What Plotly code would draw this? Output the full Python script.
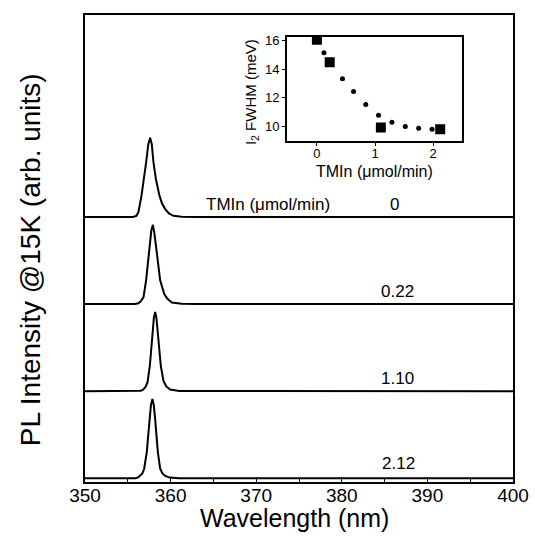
import plotly.graph_objects as go

# ---- main spectra (normalized PL intensity) ----
tmin_labels = ["0", "0.22", "1.10", "2.12"]
offsets = [3, 2, 1, 0]

wl_0 = [350, 355.6, 356.0, 356.24, 356.6, 356.91, 357.14, 357.4, 357.61, 357.8, 358.0, 358.28, 358.7, 359.0, 359.37, 359.8, 360.34, 361.3, 363, 400]
pl_0 = [0, 0, 0.015, 0.06, 0.27, 0.48, 0.69, 0.92, 1.0, 0.92, 0.69, 0.48, 0.27, 0.17, 0.10, 0.045, 0.015, 0.004, 0, 0]

wl_1 = [350, 355.8, 356.24, 356.55, 356.83, 357.14, 357.34, 357.53, 357.75, 357.93, 358.1, 358.31, 358.51, 358.78, 359.25, 359.6, 360.15, 361.3, 363, 400]
pl_1 = [0, 0, 0.01, 0.04, 0.085, 0.30, 0.51, 0.72, 0.93, 1.0, 0.9, 0.72, 0.51, 0.30, 0.13, 0.07, 0.02, 0.004, 0, 0]

wl_2 = [350, 356.2, 356.5, 356.76, 357.05, 357.30, 357.57, 357.73, 357.88, 358.05, 358.2, 358.35, 358.51, 358.66, 358.86, 359.17, 359.5, 359.95, 361, 400]
pl_2 = [0, 0, 0.005, 0.016, 0.05, 0.11, 0.315, 0.52, 0.73, 0.93, 1.0, 0.92, 0.73, 0.52, 0.315, 0.13, 0.06, 0.02, 0.003, 0]

wl_3 = [350, 355.9, 356.2, 356.44, 356.7, 356.91, 357.22, 357.38, 357.53, 357.7, 357.88, 358.04, 358.20, 358.35, 358.51, 358.78, 359.05, 359.37, 359.9, 361, 400]
pl_3 = [0, 0, 0.01, 0.03, 0.06, 0.12, 0.33, 0.535, 0.74, 0.92, 1.0, 0.92, 0.74, 0.535, 0.33, 0.12, 0.06, 0.03, 0.008, 0, 0]

spectra_wl = [wl_0, wl_1, wl_2, wl_3]
spectra_pl = [pl_0, pl_1, pl_2, pl_3]
peak_scale = 0.91

# ---- inset data ----
inset_tmin = [0, 0.22, 1.10, 2.12]
inset_fwhm = [16.07, 14.48, 9.9, 9.78]
fit_tmin = [0.12, 0.44, 0.63, 0.84, 1.06, 1.29, 1.52, 1.75, 1.98]
fit_fwhm = [15.16, 13.32, 12.43, 11.52, 10.76, 10.27, 9.97, 9.85, 9.78]

main_ticks = [350, 360, 370, 380, 390, 400]
inset_xticks = [0, 1, 2]
inset_yticks = [10, 12, 14, 16]

FONT = "Liberation Sans, Arial, sans-serif"

fig = go.Figure()
for wl, pl, off in zip(spectra_wl, spectra_pl, offsets):
    fig.add_trace(go.Scatter(
        x=wl, y=[off + peak_scale * v for v in pl], mode="lines",
        line=dict(color="black", width=2), showlegend=False,
        xaxis="x", yaxis="y"))

fig.add_trace(go.Scatter(
    x=fit_tmin, y=fit_fwhm, mode="markers",
    marker=dict(color="black", size=5, symbol="circle"),
    showlegend=False, xaxis="x2", yaxis="y2"))
fig.add_trace(go.Scatter(
    x=inset_tmin, y=inset_fwhm, mode="markers",
    marker=dict(color="black", size=10, symbol="square"),
    showlegend=False, xaxis="x2", yaxis="y2"))

# labels next to spectra
label_x = [386.1, 386.5, 386.5, 386.6]
label_y = [3.14, 2.15, 1.15, 0.17]
for lab, lx, ly in zip(tmin_labels, label_x, label_y):
    fig.add_annotation(x=lx, y=ly, text=lab,
                       showarrow=False, xref="x", yref="y",
                       font=dict(size=17, color="black", family=FONT))
fig.add_annotation(x=371.4, y=3.14, text="TMIn (\u03bcmol/min)", showarrow=False,
                   xref="x", yref="y", font=dict(size=17, color="black", family=FONT))

# axis titles as annotations (paper coords)
fig.add_annotation(x=0.489, y=-0.077, xref="paper", yref="paper", text="Wavelength (nm)",
                   showarrow=False, xanchor="center", yanchor="middle",
                   font=dict(size=25, color="black", family=FONT))
fig.add_annotation(x=-0.1286, y=0.477, xref="paper", yref="paper",
                   text="PL Intensity @15K (arb. units)", textangle=-90,
                   showarrow=False, xanchor="center", yanchor="middle",
                   font=dict(size=28, color="black", family=FONT))
fig.add_annotation(x=0.5, y=-0.29, xref="x2 domain", yref="y2 domain",
                   text="TMIn (\u03bcmol/min)", showarrow=False,
                   xanchor="center", yanchor="middle",
                   font=dict(size=16, color="black", family=FONT))
fig.add_annotation(x=-0.204, y=0.47, xref="x2 domain", yref="y2 domain",
                   text="I<sub>2</sub> FWHM (meV)", textangle=-90, showarrow=False,
                   xanchor="center", yanchor="middle",
                   font=dict(size=15, color="black", family=FONT))

fig.update_layout(
    width=535, height=544,
    margin=dict(l=85, r=22, t=15, b=62, autoexpand=False),
    paper_bgcolor="white", plot_bgcolor="white",
    font=dict(family=FONT, color="black"),
    xaxis=dict(range=[350, 400], tickvals=main_ticks, ticks="inside", ticklen=5,
               tickwidth=1, tickcolor="black", automargin=False,
               minor=dict(dtick=5, ticks="inside", ticklen=3, tickcolor="black"),
               showline=True, linecolor="black", linewidth=2, mirror=True,
               showgrid=False, zeroline=False, ticklabelstandoff=-5,
               tickfont=dict(size=19, family=FONT)),
    yaxis=dict(range=[-0.043, 5.32], showticklabels=False, ticks="", automargin=False,
               showline=True, linecolor="black", linewidth=2, mirror=True,
               showgrid=False, zeroline=False),
    xaxis2=dict(domain=[0.4716, 0.8815], anchor="y2", range=[-0.517, 2.5],
                tickvals=inset_xticks, ticks="outside", ticklen=3, tickcolor="black",
                showline=True, linecolor="black", linewidth=1.5, mirror=True,
                showgrid=False, zeroline=False, ticklabelstandoff=-3,
                tickfont=dict(size=13, family=FONT)),
    yaxis2=dict(domain=[0.730, 0.9535], anchor="x2", range=[8.94, 16.28],
                tickvals=inset_yticks, ticks="outside", ticklen=3, tickcolor="black",
                showline=True, linecolor="black", linewidth=1.5, mirror=True,
                showgrid=False, zeroline=False, tickfont=dict(size=13, family=FONT)),
)

fig.write_html("out.html", config={"displayModeBar": False},
               post_script="document.body.style.margin='0';")
